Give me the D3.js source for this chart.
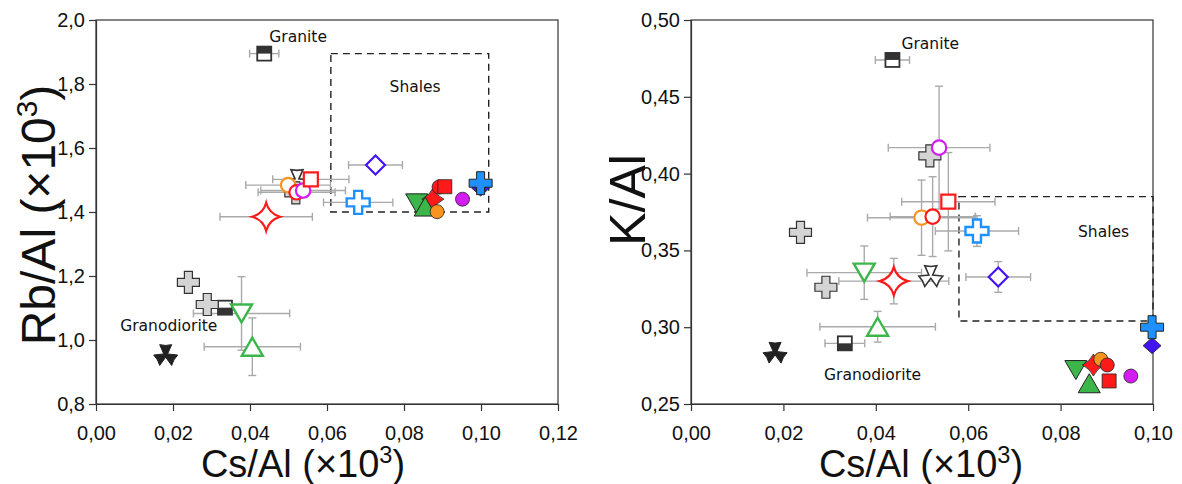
<!DOCTYPE html>
<html><head><meta charset="utf-8">
<script src="https://cdn.jsdelivr.net/npm/d3@7"></script>
<style>body{margin:0;background:#fff}svg{display:block}</style>
</head><body>
<svg id="chart" width="1182" height="484"></svg>
<script>
// ---------- DATA ----------
const markerKeys = ["granite","granodiorite","triFilled","triOpen","grayPlus1","grayPlus2","grayPlus3",
  "greenDownOpen","greenUpOpen","redStarOpen","bluePlusOpen","diamondOpen",
  "orangeCircleOpen","redCircleOpen","magentaCircleOpen","redSquareOpen",
  "greenDownFilled","redStarFilled","greenUpFilled","orangeCircleFilled","redCircleFilled",
  "redSquareFilled","magentaCircleFilled","diamondFilled","bluePlusFilled"];

// Left panel: Rb/Al vs Cs/Al
const csAlLeft  = [0.0437,0.0335,0.0181,0.0522,0.0240,0.0289,0.0519,0.0378,0.0406,0.0442,0.0681,0.0726,0.0499,0.0521,0.0538,0.0558,0.0833,0.0875,0.0855,0.0886,0.0891,0.0906,0.0952,0.0999,0.0999];
const rbAl      = [1.895,1.101,0.953,1.50,1.180,1.111,1.46,1.083,0.979,1.385,1.430,1.547,1.484,1.4615,1.467,1.502,1.427,1.44,1.417,1.401,1.478,1.479,1.440,1.475,1.490];
const csErrLeft = [0.0038,0.004,0,0,0,0,0,0.0125,0.0125,0.012,0.009,0.007,0.011,0.010,0.011,0.0099,0,0,0,0,0,0,0,0,0];
const rbErr     = [0,0,0,0,0,0,0,0.115,0.09,0,0,0,0,0,0,0,0,0,0,0,0,0,0,0,0];

// Right panel: K/Al vs Cs/Al
const csAlRight  = [0.0436,0.0333,0.0182,0.0519,0.0237,0.0292,0.0517,0.0375,0.0404,0.0439,0.0619,0.0665,0.0499,0.0523,0.0537,0.0557,0.0833,0.0871,0.0862,0.0887,0.0901,0.0905,0.0952,0.0998,0.0998];
const kAl        = [0.474,0.2895,0.2834,0.3333,0.3618,0.326,0.4115,0.3355,0.3003,0.330,0.3626,0.3327,0.3713,0.372,0.4169,0.3817,0.2721,0.2754,0.2635,0.2791,0.2754,0.265,0.2682,0.288,0.30];
const csErrRight = [0.0037,0.0043,0,0,0,0,0,0.0124,0.0125,0.0119,0.009,0.007,0.0117,0.0092,0.011,0.0101,0,0,0,0,0,0,0,0,0];
const kErr       = [0,0,0,0,0,0,0,0.0174,0.010,0.0148,0.010,0.010,0.0245,0.026,0.040,0.032,0,0,0,0,0,0,0,0,0];

// Axis ticks
const xTicksLeft  = [0,0.02,0.04,0.06,0.08,0.10,0.12];
const yTicksLeft  = [0.8,1.0,1.2,1.4,1.6,1.8,2.0];
const xTicksRight = [0,0.02,0.04,0.06,0.08,0.10];
const yTicksRight = [0.25,0.30,0.35,0.40,0.45,0.50];

// Reference fields: [xmin,xmax,ymin,ymax]
const shalesLeft  = [0.061,0.102,1.40,1.895];
const shalesRight = [0.058,0.100,0.304,0.385];

// Labels [text, x, y]
const labelsLeft  = [["Granite",0.0525,1.930],["Shales",0.0829,1.775],["Granodiorite",0.0189,1.027]];
const labelsRight = [["Granite",0.0518,0.4811],["Shales",0.0893,0.3584],["Granodiorite",0.0393,0.2656]];

// ---------- STYLES ----------
const RED="#ff1a1a", ORANGE="#f7931e", MAG="#d21cf0", BLUE="#1e90ff", VIOLET="#4414f0", GREEN="#3cb54a", DARK="#222";

function pPlus(W,t){const a=W/2,b=t/2;return `M${-b},${-a}H${b}V${-b}H${a}V${b}H${b}V${a}H${-b}V${b}H${-a}V${-b}H${-b}Z`;}
function pSquare(s){const a=s/2;return `M${-a},${-a}H${a}V${a}H${-a}Z`;}
function pCircle(r){return `M${r},0A${r},${r} 0 1,1 ${-r},0A${r},${r} 0 1,1 ${r},0Z`;}
function pDiamond(w,h){return `M0,${-h/2}L${w/2},0L0,${h/2}L${-w/2},0Z`;}
function pTriDown(w,h){return `M${-w/2},${-h/2}L${w/2},${-h/2}L0,${h/2}Z`;}
function pTriUp(w,h){return `M0,${-h/2}L${w/2},${h/2}L${-w/2},${h/2}Z`;}
function pStar4(R,c){return `M0,${-R}Q${c},${-c} ${R},0Q${c},${c} 0,${R}Q${-c},${c} ${-R},0Q${-c},${-c} 0,${-R}Z`;}
function pTrefoil(R){
  const r=Math.PI/180, w=30;
  const p=(ang,rad)=>[(rad*Math.cos(ang*r)).toFixed(2),(rad*Math.sin(ang*r)).toFixed(2)];
  let d="";
  [-90,30,150].forEach((a,i)=>{
    const c1=p(a-w,R), m=p(a,R*0.8), c2=p(a+w,R), n=p(a+60,2.2);
    d+=(i===0?"M":"L")+p(a-60,2.2)+"L"+c1+"L"+m+"L"+c2+"L"+n;
  });
  return d+"Z";
}

const markerStyles = {
  granite:{half:"top"}, granodiorite:{half:"bottom"},
  triFilled:{d:pTrefoil(12),fill:DARK,stroke:DARK,sw:1},
  triOpen:{d:pTrefoil(12),fill:"#fff",stroke:"#333",sw:1.6},
  grayPlus1:{d:pPlus(22,8),fill:"#d4d4d4",stroke:"#333",sw:1.2},
  grayPlus2:{d:pPlus(22,8),fill:"#d4d4d4",stroke:"#333",sw:1.2},
  grayPlus3:{d:pPlus(22,8),fill:"#d4d4d4",stroke:"#333",sw:1.2},
  greenDownOpen:{d:pTriDown(21,18),fill:"#fff",stroke:GREEN,sw:2.4},
  greenUpOpen:{d:pTriUp(21,18),fill:"#fff",stroke:GREEN,sw:2.4},
  redStarOpen:{d:pStar4(14,3),fill:"#fff",stroke:RED,sw:2.2},
  bluePlusOpen:{d:pPlus(23,8),fill:"#fff",stroke:BLUE,sw:2.4},
  diamondOpen:{d:pDiamond(19,19),fill:"#fff",stroke:VIOLET,sw:2.2},
  orangeCircleOpen:{d:pCircle(7.2),fill:"#fff",stroke:ORANGE,sw:2.2},
  redCircleOpen:{d:pCircle(7.2),fill:"#fff",stroke:RED,sw:2.2},
  magentaCircleOpen:{d:pCircle(7.2),fill:"#fff",stroke:MAG,sw:2.2},
  redSquareOpen:{d:pSquare(14),fill:"#fff",stroke:RED,sw:2.2},
  greenDownFilled:{d:pTriDown(22,19),fill:GREEN,stroke:DARK,sw:1},
  redStarFilled:{d:pStar4(11,3.5),fill:RED,stroke:DARK,sw:0.8},
  greenUpFilled:{d:pTriUp(22,19),fill:GREEN,stroke:DARK,sw:1},
  orangeCircleFilled:{d:pCircle(7),fill:ORANGE,stroke:DARK,sw:0.8},
  redCircleFilled:{d:pCircle(7),fill:RED,stroke:DARK,sw:0.8},
  redSquareFilled:{d:pSquare(14),fill:RED,stroke:DARK,sw:0.8},
  magentaCircleFilled:{d:pCircle(7),fill:MAG,stroke:DARK,sw:0.8},
  diamondFilled:{d:pDiamond(18,16),fill:VIOLET,stroke:DARK,sw:0.8},
  bluePlusFilled:{d:pPlus(23,8),fill:BLUE,stroke:DARK,sw:1}
};

const svg = d3.select("#chart");
const fmt2 = v => d3.format(".2f")(v).replace(".",",");
const fmt1 = v => d3.format(".1f")(v).replace(".",",");
const SANS = "'Liberation Sans',Arial,Helvetica,sans-serif";

function panel(cfg){
  const x = d3.scaleLinear().domain(cfg.xDomain).range(cfg.xRange);
  const y = d3.scaleLinear().domain(cfg.yDomain).range(cfg.yRange);
  const g = svg.append("g");
  g.append("rect").attr("x",cfg.xRange[0]).attr("y",cfg.yRange[1])
    .attr("width",cfg.xRange[1]-cfg.xRange[0]).attr("height",cfg.yRange[0]-cfg.yRange[1])
    .attr("fill","none").attr("stroke","#333").attr("stroke-width",1.2);
  const ax = g.append("g").attr("transform",`translate(0,${cfg.yRange[0]})`)
    .call(d3.axisBottom(x).tickValues(cfg.xTicks).tickFormat(fmt2).tickSize(7).tickSizeOuter(0).tickPadding(15));
  const ay = g.append("g").attr("transform",`translate(${cfg.xRange[0]},0)`)
    .call(d3.axisLeft(y).tickValues(cfg.yTicks).tickFormat(cfg.yFmt).tickSize(7).tickSizeOuter(0).tickPadding(4));
  [ax,ay].forEach(a=>{
    a.selectAll("text").attr("font-family",SANS).attr("font-size",20).attr("fill","#111");
    a.selectAll("line,path").attr("stroke","#333").attr("stroke-width",1.2);
  });
  const b = cfg.shales;
  g.append("rect").attr("x",x(b[0])).attr("y",y(b[3])).attr("width",x(b[1])-x(b[0])).attr("height",y(b[2])-y(b[3]))
    .attr("fill","none").attr("stroke","#222").attr("stroke-width",1.4).attr("stroke-dasharray","7,5");
  cfg.labels.forEach(l=>{
    g.append("text").attr("x",x(l[1])).attr("y",y(l[2])).attr("text-anchor","middle")
      .attr("font-family","'DejaVu Sans',sans-serif").attr("font-size",15.5).attr("fill","#111").text(l[0]);
  });
  const eb = g.append("g").attr("stroke","#aaa").attr("stroke-width",1.4).attr("fill","none");
  markerKeys.forEach((k,i)=>{
    const cx=x(cfg.xs[i]), cy=y(cfg.ys[i]);
    if(cfg.xe[i]>0){
      const x1=x(cfg.xs[i]-cfg.xe[i]), x2=x(cfg.xs[i]+cfg.xe[i]);
      eb.append("line").attr("x1",x1).attr("x2",x2).attr("y1",cy).attr("y2",cy);
      eb.append("line").attr("x1",x1).attr("x2",x1).attr("y1",cy-4).attr("y2",cy+4);
      eb.append("line").attr("x1",x2).attr("x2",x2).attr("y1",cy-4).attr("y2",cy+4);
    }
    if(cfg.ye[i]>0){
      const y1=y(cfg.ys[i]-cfg.ye[i]), y2=y(cfg.ys[i]+cfg.ye[i]);
      eb.append("line").attr("x1",cx).attr("x2",cx).attr("y1",y1).attr("y2",y2);
      eb.append("line").attr("x1",cx-4).attr("x2",cx+4).attr("y1",y1).attr("y2",y1);
      eb.append("line").attr("x1",cx-4).attr("x2",cx+4).attr("y1",y2).attr("y2",y2);
    }
  });
  markerKeys.forEach((k,i)=>{
    const st = markerStyles[k];
    const mg = g.append("g").attr("transform",`translate(${x(cfg.xs[i])},${y(cfg.ys[i])})`);
    if(st.half){
      const s=14;
      mg.append("rect").attr("x",-s/2).attr("y",-s/2).attr("width",s).attr("height",s).attr("fill","#fff");
      mg.append("rect").attr("x",-s/2).attr("y",st.half==="top"?-s/2:0).attr("width",s).attr("height",s/2).attr("fill","#333");
      mg.append("rect").attr("x",-s/2).attr("y",-s/2).attr("width",s).attr("height",s)
        .attr("fill","none").attr("stroke","#333").attr("stroke-width",1.8);
    } else {
      mg.append("path").attr("d",st.d).attr("fill",st.fill).attr("stroke",st.stroke).attr("stroke-width",st.sw).attr("stroke-linejoin","miter");
    }
  });
  const xt = g.append("text").attr("x",cfg.xTitlePos[0]).attr("y",cfg.xTitlePos[1]).attr("text-anchor","middle")
    .attr("font-family",SANS).attr("font-size",cfg.xTitleSize).attr("fill","#111");
  xt.append("tspan").text("Cs/Al (×10");
  xt.append("tspan").attr("font-size",cfg.xTitleSize*0.62).attr("dy",-cfg.xTitleSize*0.38).text("3");
  xt.append("tspan").attr("dy",cfg.xTitleSize*0.38).text(")");
  const yt = g.append("text").attr("transform",`translate(${cfg.yTitlePos[0]},${cfg.yTitlePos[1]}) rotate(-90)`).attr("text-anchor","middle")
    .attr("font-family",SANS).attr("font-size",cfg.yTitleSize).attr("fill","#111");
  cfg.yTitle.forEach(p=>{
    const t = yt.append("tspan").text(p[0]);
    if(p[1]==="sup") t.attr("font-size",cfg.yTitleSize*0.62).attr("dy",-cfg.yTitleSize*0.38);
    if(p[1]==="down") t.attr("dy",cfg.yTitleSize*0.38);
  });
}

panel({xDomain:[0,0.12],xRange:[96,558],yDomain:[0.8,2.0],yRange:[404,20],
  xTicks:xTicksLeft,yTicks:yTicksLeft,yFmt:fmt1,shales:shalesLeft,labels:labelsLeft,
  xs:csAlLeft,ys:rbAl,xe:csErrLeft,ye:rbErr,
  xTitlePos:[303,477],xTitleSize:38,yTitlePos:[55,215],yTitleSize:48,
  yTitle:[["Rb/Al (×10"],["3","sup"],[")","down"]]});

panel({xDomain:[0,0.10],xRange:[691,1153],yDomain:[0.25,0.50],yRange:[404,20],
  xTicks:xTicksRight,yTicks:yTicksRight,yFmt:fmt2,shales:shalesRight,labels:labelsRight,
  xs:csAlRight,ys:kAl,xe:csErrRight,ye:kErr,
  xTitlePos:[921,477],xTitleSize:38,yTitlePos:[645,200],yTitleSize:50,
  yTitle:[["K/Al"]]});
</script>
</body></html>
